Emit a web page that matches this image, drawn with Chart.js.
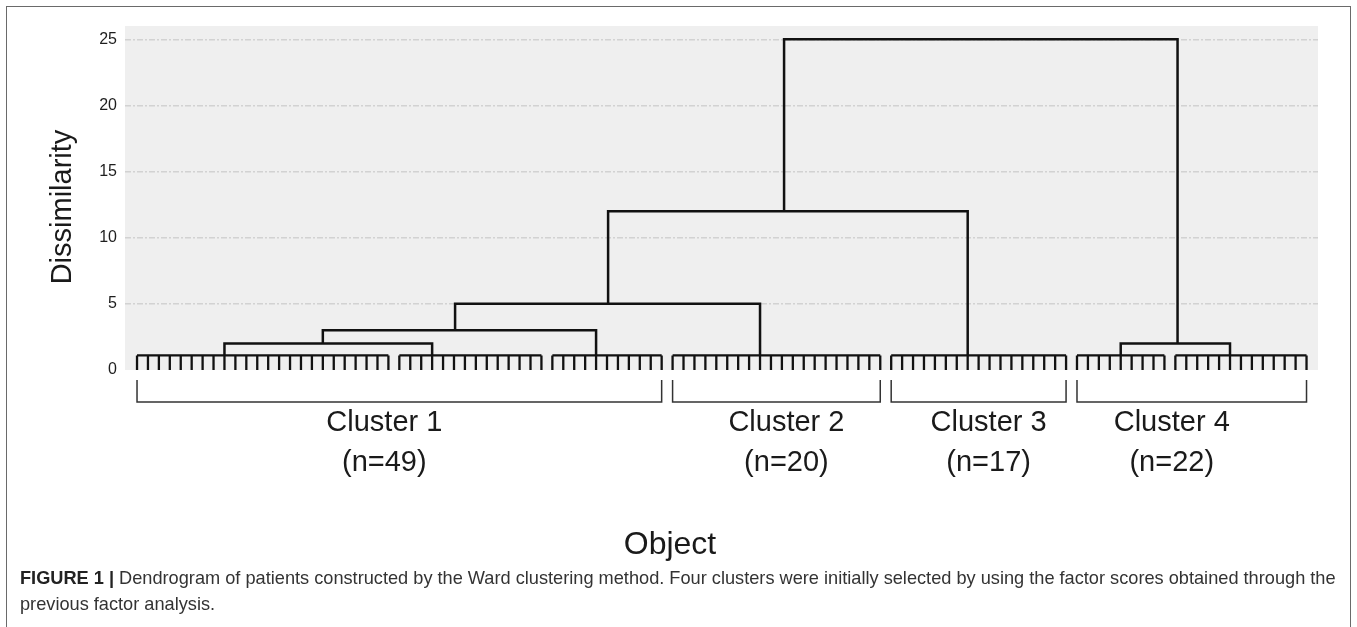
<!DOCTYPE html>
<html>
<head>
<meta charset="utf-8">
<title>Dendrogram of patients</title>
<script src="https://cdn.jsdelivr.net/npm/chart.js@4.4.1/dist/chart.umd.min.js"></script>
<style>
  html, body { margin: 0; padding: 0; background: #fff; }
  #wrap { position: relative; width: 1357px; height: 627px; overflow: hidden; }
  #c { position: absolute; left: 0; top: 0; }
  #frame { position: absolute; left: 6px; top: 6px; width: 1345px; height: 640px;
           border: 1.5px solid #6a6a6a; box-sizing: border-box; pointer-events: none; }
  #caption { position: absolute; left: 20px; top: 565px; white-space: nowrap;
             font: 18.2px "Liberation Sans", Arial, sans-serif; line-height: 26px; color: #333; }
  #caption b { color: #222; }
</style>
</head>
<body>
<div id="wrap">
  <canvas id="c" width="1357" height="627"></canvas>
  <div id="frame"></div>
  <div id="caption"><b>FIGURE 1 |</b> Dendrogram of patients constructed by the Ward clustering method. Four clusters were initially selected by using the factor scores obtained through the<br>previous factor analysis.</div>
</div>
<script>
// ---- tree data -------------------------------------------------------
const clusterNames = ['Cluster 1', 'Cluster 2', 'Cluster 3', 'Cluster 4'];
const clusterSizes = [49, 20, 17, 22];

// leaf groups at the foot of the tree, left to right
const groupSizes = [24, 14, 11, 20, 17, 9, 13];
// leaf index (in tree order) where each group's stem rises
const groupStem = [8, 27, 42, 57, 76, 90, 100];
// dissimilarity at which the leaves of each group are joined
const groupLevel = 1.1;

// agglomeration steps: nodes 0-6 are the groups, node 7 onwards the merges
const mergeLeft   = [0, 7, 8, 9, 5, 10];
const mergeRight  = [1, 2, 3, 4, 6, 11];
const mergeHeight = [2.0, 3.0, 5.0, 12.0, 2.0, 25.0];
// leaf-order position of the stem rising from each merge (root has none)
const mergeStem   = [17.0, 29.1, 43.1, 59.2, 95.2, null];

const yTicks = [0, 5, 10, 15, 20, 25];

// ---- build line segments ---------------------------------------------
const FONT = '"Liberation Sans", Arial, sans-serif';
const nLeaves = groupSizes.reduce((a, b) => a + b, 0);

const nodeX = groupStem.concat(mergeStem);
const nodeH = groupSizes.map(() => groupLevel).concat(mergeHeight);

const leafPts = [];
let start = 0;
groupSizes.forEach((size) => {
  const end = start + size - 1;
  for (let i = start; i <= end; i++) {
    leafPts.push({ x: i, y: 0 }, { x: i, y: groupLevel }, { x: i, y: null });
  }
  leafPts.push({ x: start, y: groupLevel }, { x: end, y: groupLevel }, { x: end, y: null });
  start = end + 1;
});

const mergePts = [];
mergeLeft.forEach((l, k) => {
  const r = mergeRight[k];
  const h = mergeHeight[k];
  mergePts.push(
    { x: nodeX[l], y: nodeH[l] }, { x: nodeX[l], y: h },
    { x: nodeX[r], y: h }, { x: nodeX[r], y: nodeH[r] },
    { x: nodeX[r], y: null }
  );
});

// ---- plugins ---------------------------------------------------------
const panelBackground = {
  id: 'panelBackground',
  beforeDraw(chart) {
    const { ctx, chartArea: a } = chart;
    ctx.save();
    ctx.fillStyle = '#efefef';
    ctx.fillRect(a.left, a.top, a.right - a.left, a.bottom - a.top);
    ctx.restore();
  }
};

// shift of each cluster caption from the middle of its bracket (px)
const captionShift = [-15, 10, 10, -20];

const clusterBrackets = {
  id: 'clusterBrackets',
  afterDraw(chart) {
    const { ctx, chartArea: a, scales: { x } } = chart;
    ctx.save();
    let first = 0;
    clusterSizes.forEach((n, i) => {
      const x0 = x.getPixelForValue(first);
      const x1 = x.getPixelForValue(first + n - 1);
      const top = a.bottom + 10, bot = a.bottom + 32;
      ctx.strokeStyle = '#333';
      ctx.lineWidth = 1.5;
      ctx.beginPath();
      ctx.moveTo(x0, top); ctx.lineTo(x0, bot); ctx.lineTo(x1, bot); ctx.lineTo(x1, top);
      ctx.stroke();

      const cx = (x0 + x1) / 2 + captionShift[i];
      ctx.fillStyle = '#1a1a1a';
      ctx.font = '29px ' + FONT;
      ctx.textAlign = 'center';
      ctx.textBaseline = 'middle';
      ctx.fillText(clusterNames[i], cx, a.bottom + 53);
      ctx.fillText('(n=' + n + ')', cx, a.bottom + 93);
      first += n;
    });

    ctx.fillStyle = '#1a1a1a';
    ctx.textAlign = 'center';
    ctx.textBaseline = 'middle';
    ctx.font = '32px ' + FONT;
    ctx.fillText('Object', 670, a.bottom + 175);

    // vertical axis name
    ctx.translate(71, (a.top + a.bottom) / 2 + 9);
    ctx.rotate(-Math.PI / 2);
    ctx.textBaseline = 'alphabetic';
    ctx.font = '29px ' + FONT;
    ctx.fillText('Dissimilarity', 0, 0);
    ctx.restore();
  }
};

// ---- chart -----------------------------------------------------------
new Chart(document.getElementById('c'), {
  type: 'scatter',
  data: {
    datasets: [
      { data: leafPts, showLine: true, borderColor: '#111', borderWidth: 2.3,
        pointRadius: 0, borderCapStyle: 'butt', borderJoinStyle: 'miter', spanGaps: false },
      { data: mergePts, showLine: true, borderColor: '#111', borderWidth: 2.5,
        pointRadius: 0, borderCapStyle: 'butt', borderJoinStyle: 'miter', spanGaps: false }
    ]
  },
  options: {
    responsive: false,
    animation: false,
    layout: { padding: { left: 0, top: 26, right: 39, bottom: 257 } },
    plugins: { legend: { display: false }, tooltip: { enabled: false } },
    scales: {
      x: { type: 'linear', min: -1.1, max: nLeaves + 0.05, display: false },
      y: {
        type: 'linear', min: 0, max: 26,
        afterBuildTicks: (s) => { s.ticks = yTicks.map((v) => ({ value: v })); },
        afterFit: (s) => { s.width = 125; },
        border: { display: false, dash: [6, 2, 2, 2] },
        grid: {
          drawTicks: false, lineWidth: 1.4,
          color: (c) => (c.tick && c.tick.value > 0 ? '#d2d2d2' : 'rgba(0,0,0,0)')
        },
        ticks: { color: '#1e1e1e', padding: 8, font: { size: 16, family: FONT } },
        title: { display: false }
      }
    }
  },
  plugins: [panelBackground, clusterBrackets]
});
</script>
</body>
</html>
